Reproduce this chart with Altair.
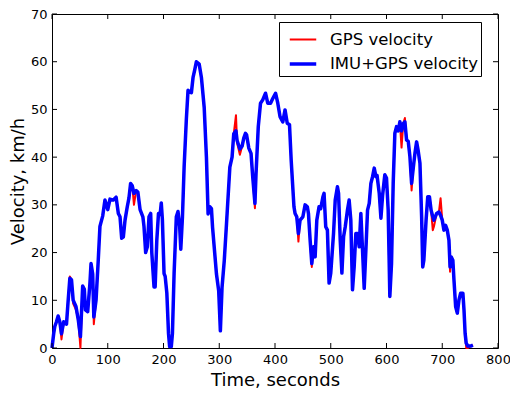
import altair as alt
import pandas as pd

# ---- data ----
time_s = [0, 3, 5, 8, 11, 14, 17, 21, 26, 29, 32, 35, 38, 43, 47, 51, 55, 58, 60, 64,
          68, 70, 73, 75, 79, 83, 86, 91, 95, 100, 104, 110, 115, 119, 122, 125, 128, 131, 135, 138,
          141, 144, 147, 151, 154, 158, 163, 165, 168, 171, 174, 177, 179, 183, 185, 188, 191, 194, 196, 198,
          201, 203, 206, 209, 211, 214, 216, 219, 223, 226, 229, 231, 234, 237, 241, 244, 247, 250, 253, 256,
          259, 264, 268, 273, 277, 280, 283, 286, 288, 291, 295, 299, 302, 305, 309, 313, 319, 323, 326, 330,
          332, 337, 341, 344, 347, 349, 353, 357, 360, 364, 366, 370, 374, 378, 383, 387, 392, 396, 401, 405,
          409, 414, 418, 422, 426, 429, 434, 436, 439, 442, 445, 450, 454, 458, 460, 463, 466, 469, 472, 475,
          479, 482, 486, 488, 491, 494, 497, 500, 505, 508, 512, 514, 517, 520, 523, 526, 530, 533, 536, 539,
          542, 545, 548, 551, 554, 557, 560, 563, 566, 569, 572, 575, 578, 581, 583, 587, 590, 593, 597, 600,
          603, 606, 609, 612, 615, 618, 621, 624, 627, 630, 633, 636, 639, 642, 645, 648, 651, 654, 657, 660,
          663, 665, 667, 671, 674, 677, 680, 683, 685, 690, 694, 697, 700, 703, 706, 709, 712, 714, 716, 719,
          721, 724, 727, 730, 733, 737, 739, 741, 743, 746, 751, 755]

imu_gps = [0, 3, 4.5, 5.5, 6.7, 5.5, 3, 5.5, 5, 10, 14.6, 14.3, 10, 8.7, 6, 2.4, 13, 12.3, 8, 7.6,
           13.5, 17.7, 15.5, 6.5, 10, 18.5, 25.5, 27.7, 31, 29, 31.2, 31, 31.6, 28.2, 27.5, 23, 23.3, 26.8, 29.6, 31.4,
           34.5, 34, 32.4, 33, 32.7, 29, 27.5, 25.5, 20, 21.2, 27.5, 28.2, 20, 12.8, 12.8, 22.6, 28.2, 28, 30.4, 26.9,
           15.6, 15, 11.5, 3, 0.3, 0.3, 3, 15.6, 27.5, 28.6, 25.5, 20.7, 27.5, 38, 48, 54, 53.7, 53.5, 56.7, 58.3,
           60, 59.5, 56.7, 50.4, 40, 28.1, 29.6, 29.2, 25.3, 21.1, 15.5, 12, 3.6, 12.7, 18.3, 26, 37.9, 40, 44.9, 45.5,
           43.5, 41.7, 42.3, 44, 45, 44.7, 41.9, 40.8, 35.9, 30.3, 36.6, 46.4, 51.3, 52, 53.4, 51.3, 51.3, 52.3, 53.4, 51.3,
           48.5, 47.4, 49.9, 47.1, 46.8, 39.4, 29.6, 28.2, 27.5, 24, 26.8, 27.5, 30, 29.6, 28.2, 22.6, 17.7, 21.2, 19.1, 26.8,
           29.6, 29.2, 31.7, 32.4, 25.4, 24.7, 13.6, 15.7, 24, 31, 33.8, 32.4, 22.6, 15.7, 23.3, 25.4, 28.9, 31, 26.8, 12.2,
           17, 24, 24, 21.2, 28.2, 20.5, 12.5, 20.5, 28.9, 30.3, 34.5, 35.9, 37.7, 35.9, 36.2, 32.4, 27.2, 32, 36.3, 35.6,
           28.9, 10.8, 17.7, 34.5, 45, 46.4, 45.5, 47.4, 45.5, 47, 47.4, 43.6, 43.3, 40.1, 34.5, 37.7, 40.8, 43.2, 41.2, 38.7,
           27.5, 17, 18.4, 26.8, 31.7, 31.7, 28.9, 27.5, 26.8, 28.2, 28.5, 27.8, 26.8, 24.7, 25.7, 24.7, 22.6, 17, 19.1, 18.4,
           14.3, 8.7, 7.3, 10.1, 11.5, 11.5, 8, 3.1, 1, 0.4, 0.4, 0.6]

gps = [0, 3, 4.5, 5.5, 6.7, 5.5, 1.8, 5.5, 5, 10, 15.0, 14.3, 9.3, 8.0, 6, 0.0, 13, 12.3, 8, 7.6,
       13.5, 17.7, 15.5, 5.0, 10, 18.5, 25.5, 27.7, 31, 29, 31.2, 31, 31.6, 28.2, 27.5, 23, 23.3, 26.8, 29.6, 31.4,
       34.5, 34, 30.0, 33, 32.7, 29, 27.5, 25.5, 20, 21.2, 27.5, 28.2, 20, 12.8, 12.8, 22.6, 28.2, 28, 30.4, 26.9,
       15.6, 15, 11.5, 3, 0.3, 0.3, 3, 15.6, 27.5, 28.6, 25.5, 20.7, 27.5, 38, 48, 54, 53.7, 53.5, 56.7, 58.3,
       60, 59.5, 56.7, 50.4, 40, 28.1, 29.6, 29.2, 25.3, 21.1, 15.5, 12, 3.6, 12.7, 18.3, 26, 37.9, 40, 44.9, 48.8,
       43.0, 40.5, 42.3, 44, 45, 44.7, 41.9, 40.8, 35.9, 29.3, 36.6, 46.4, 51.3, 52, 53.4, 51.3, 51.3, 52.3, 53.4, 51.3,
       48.5, 47.4, 49.9, 47.1, 46.8, 39.4, 29.6, 28.2, 27.5, 22.3, 26.8, 27.5, 30, 29.6, 28.2, 22.6, 17.0, 21.2, 19.1, 26.8,
       29.6, 29.2, 31.7, 32.4, 25.4, 24.7, 13.6, 15.7, 24, 31, 33.8, 32.4, 22.6, 15.7, 23.3, 25.4, 28.9, 31, 26.8, 12.2,
       17, 24, 24, 21.2, 28.2, 20.5, 12.5, 20.5, 28.9, 30.3, 34.5, 35.9, 37.7, 35.9, 36.2, 32.4, 27.2, 32, 36.3, 35.6,
       28.9, 10.8, 17.7, 34.5, 45, 46.4, 45.5, 47.4, 42.0, 47, 48.2, 43.6, 43.3, 40.1, 33.0, 37.7, 40.8, 43.2, 41.2, 38.7,
       27.5, 17, 18.4, 26.8, 31.7, 31.7, 28.9, 24.7, 25.4, 28.2, 28.5, 31.4, 26.8, 24.7, 25.7, 24.7, 22.6, 16.0, 19.1, 18.4,
       14.3, 8.7, 7.3, 10.1, 11.5, 11.5, 8, 3.1, 0.0, 0.0, 0.4, 0.6]

x_ticks = [0, 100, 200, 300, 400, 500, 600, 700, 800]
y_ticks = [0, 10, 20, 30, 40, 50, 60, 70]
series_names = ["GPS velocity", "IMU+GPS velocity"]
series_colors = ["#ff0000", "#0000ff"]
series_widths = [2, 3.5]

df = pd.concat([
    pd.DataFrame({"t": time_s, "v": gps, "series": series_names[0]}),
    pd.DataFrame({"t": time_s, "v": imu_gps, "series": series_names[1]}),
], ignore_index=True)

W, H = 446, 334
FONT = "DejaVu Sans"
xs = alt.Scale(domain=[0, 800], nice=False, zero=False)
ys = alt.Scale(domain=[0, 70], nice=False, zero=False)

x_axis = alt.Axis(
    values=x_ticks, title="Time, seconds", tickSize=0, domain=False, grid=False,
    labelFlush=False, labelOverlap=False,
    labelFontSize=13, titleFontSize=18, labelPadding=5, titlePadding=5,
    labelColor="black", titleColor="black", titleFontWeight="normal", labelFont=FONT, titleFont=FONT)
y_axis = alt.Axis(
    values=y_ticks, title="Velocity, km/h", tickSize=0, domain=False, grid=False,
    labelFlush=False, labelOverlap=False,
    labelFontSize=13, titleFontSize=18, labelPadding=5, titlePadding=3,
    labelColor="black", titleColor="black", titleFontWeight="normal", labelFont=FONT, titleFont=FONT)

legend = alt.Legend(
    title=None, orient="none", legendX=227, legendY=8,
    symbolType="stroke", symbolSize=700, labelFontSize=16.5, labelFont=FONT,
    labelColor="black", strokeColor="black", fillColor="white", padding=3,
    rowPadding=1, labelOffset=12, symbolOffset=6, cornerRadius=0,
)

lines = alt.Chart(df).mark_line(strokeJoin="round").encode(
    x=alt.X("t:Q", scale=xs, axis=x_axis),
    y=alt.Y("v:Q", scale=ys, axis=y_axis),
    color=alt.Color("series:N", scale=alt.Scale(domain=series_names, range=series_colors), legend=legend),
    strokeWidth=alt.StrokeWidth("series:N", scale=alt.Scale(domain=series_names, range=series_widths), legend=legend),
)

xt = pd.DataFrame({"t": x_ticks})
yt = pd.DataFrame({"v": y_ticks})
TL = 5
bottom_ticks = alt.Chart(xt).mark_rule(color="black", strokeWidth=1).encode(
    x=alt.X("t:Q", scale=xs, axis=x_axis), y=alt.value(H), y2=alt.value(H - TL))
top_ticks = alt.Chart(xt).mark_rule(color="black", strokeWidth=1).encode(
    x=alt.X("t:Q", scale=xs, axis=x_axis), y=alt.value(0), y2=alt.value(TL))
left_ticks = alt.Chart(yt).mark_rule(color="black", strokeWidth=1).encode(
    y=alt.Y("v:Q", scale=ys, axis=y_axis), x=alt.value(0), x2=alt.value(TL))
right_ticks = alt.Chart(yt).mark_rule(color="black", strokeWidth=1).encode(
    y=alt.Y("v:Q", scale=ys, axis=y_axis), x=alt.value(W - TL), x2=alt.value(W))

chart = alt.layer(lines, bottom_ticks, top_ticks, left_ticks, right_ticks).properties(
    width=W, height=H,
    autosize=alt.AutoSizeParams(type="none"),
    padding={"left": 44, "top": 6, "right": 12, "bottom": 45},
    background="white",
).configure(font=FONT, view=alt.ViewConfig(stroke="black", strokeWidth=1))

chart.save("out.html", embed_options={"renderer": "svg", "actions": False})
